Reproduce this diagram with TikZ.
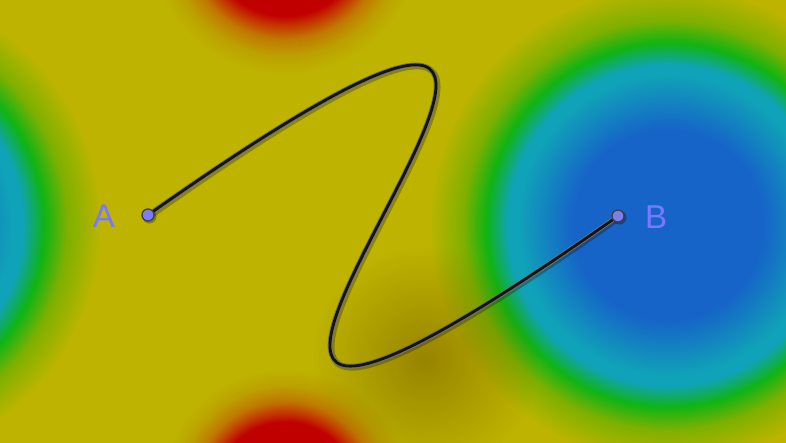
\documentclass[tikz,border=0pt]{standalone}
\usepackage{fontspec}
\setmainfont{Liberation Sans}
\usetikzlibrary{fadings}
\definecolor{fblue}{HTML}{1664C8}
\definecolor{fcyan}{HTML}{10A2B8}
\definecolor{fgreen}{HTML}{10B414}
\definecolor{fyg}{HTML}{7EB000}
\definecolor{fyellow}{HTML}{BEB400}
\definecolor{fred}{HTML}{C00000}
\definecolor{fredor}{HTML}{C43400}
\definecolor{forange}{HTML}{C07800}
\definecolor{fochre}{HTML}{BCA000}
\definecolor{fdark}{HTML}{6A4A00}
\definecolor{ptfill}{HTML}{7C7CFF}
\definecolor{lblcol}{HTML}{7A78FF}
\pgfdeclareradialshading{bluefield}{\pgfpoint{0bp}{0bp}}{color(0bp)=(fblue); color(8.5bp)=(fblue); color(13.4bp)=(fcyan); color(14.3bp)=(fcyan); color(16.25bp)=(fgreen); color(18.3bp)=(fyg); color(21.4bp)=(fyellow); color(50bp)=(fyellow)}
\pgfdeclareradialshading{redfield}{\pgfpoint{0bp}{0bp}}{color(0bp)=(fred); color(13.9bp)=(fred); color(15.6bp)=(fredor); color(18bp)=(forange); color(21bp)=(fochre); color(24.5bp)=(fyellow); color(50bp)=(fyellow)}
\tikzfading[name=blobfade, inner color=transparent!0, outer color=transparent!100]
\tikzset{
  pt/.style={circle, inner sep=0pt, minimum size=12pt, fill=ptfill, draw=black!75, line width=1.3pt},
  ptshadow/.style={circle, inner sep=0pt, minimum size=14pt, fill=black, opacity=0.3},
  lbl/.style={inner sep=0pt, text=lblcol, font=\fontsize{33}{40}\selectfont},
  curveedge/.style={line width=4.6pt, draw=black!55, line cap=round},
  curvecore/.style={line width=2.8pt, draw=black!92, line cap=round},
  curveshadow/.style={line width=6pt, draw=black, opacity=0.25, line cap=round}
}
\begin{document}
\begin{tikzpicture}[x=1pt,y=-1pt]
\useasboundingbox (0,0) rectangle (786,442);
\clip (-4,-4) rectangle (790,446);
\fill[fyellow] (-4,-4) rectangle (790,446);
\shade[shading=bluefield] (668,225) circle (280);
\shade[shading=bluefield] (-138,225) circle (280);
\shade[shading=redfield] (285,-62) circle (140);
\shade[shading=redfield] (285,493) circle (128);
\fill[fdark, opacity=0.45, path fading=blobfade] (425,360) circle (115);
% points
\coordinate (Apos) at (148,215);
\coordinate (Bpos) at (618,216);
\coordinate (c1) at (888,-305.5);
\coordinate (c2) at (-122,736.5);
% curve
\draw[curveshadow] ([shift={(1.5,1.5)}]Apos) .. controls ([shift={(1.5,1.5)}]c1) and ([shift={(1.5,1.5)}]c2) .. ([shift={(1.5,1.5)}]Bpos);
\draw[curveedge] (Apos) .. controls (c1) and (c2) .. (Bpos);
\draw[curvecore] (Apos) .. controls (c1) and (c2) .. (Bpos);
\node[ptshadow] (Ash) at ([shift={(1.5,1.5)}]Apos) {};
\node[ptshadow] (Bsh) at ([shift={(1.5,1.5)}]Bpos) {};
\node[pt] (A) at (Apos) {};
\node[pt, fill=ptfill!85!gray] (B) at (Bpos) {};
% labels
\node[lbl] (lA) at (104,216) {A};
\node[lbl] (lB) at (656,217) {B};
\end{tikzpicture}
\end{document}
